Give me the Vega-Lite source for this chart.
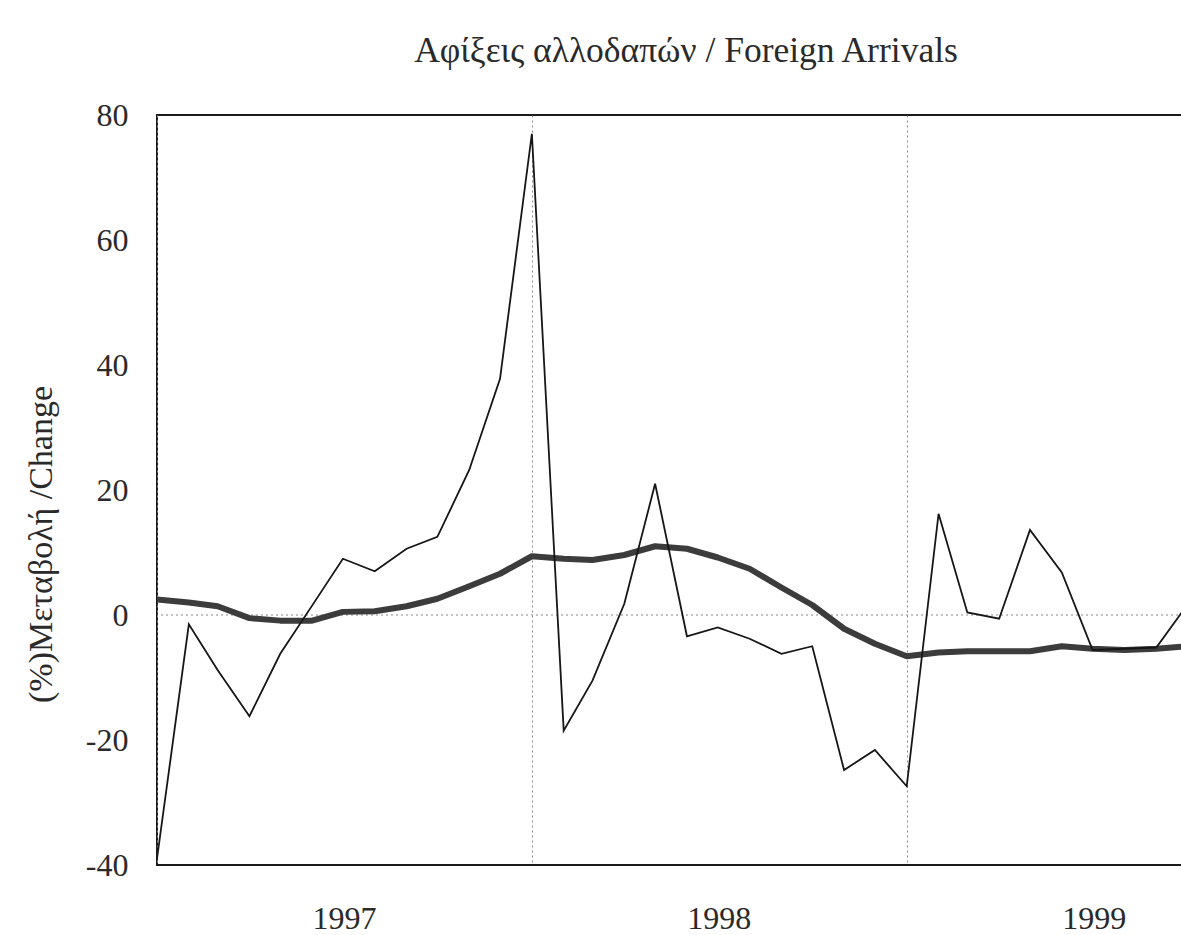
{
  "$schema": "https://vega.github.io/schema/vega-lite/v6.json",
  "width": 1026,
  "height": 750,
  "autosize": "none",
  "padding": {"left": 157, "top": 115, "right": 0, "bottom": 70},
  "background": "white",
  "config": {
    "view": {"stroke": "#1a1a1a", "strokeWidth": 2},
    "font": "Liberation Serif"
  },
  "title": {
    "text": "Αφίξεις αλλοδαπών / Foreign Arrivals",
    "font": "Liberation Serif",
    "fontSize": 35.5,
    "fontWeight": "normal",
    "color": "#2a2a2a",
    "anchor": "middle",
    "frame": "group",
    "baseline": "alphabetic",
    "offset": 2,
    "dx": 16
  },
  "data": {
    "values": [
      {"month": "1997-01-01", "change": -39.0, "trend": 2.5},
      {"month": "1997-02-01", "change": -1.5, "trend": 2.0},
      {"month": "1997-03-01", "change": -8.8, "trend": 1.4},
      {"month": "1997-04-01", "change": -16.2, "trend": -0.5},
      {"month": "1997-05-01", "change": -6.2, "trend": -0.9},
      {"month": "1997-06-01", "change": 1.5, "trend": -0.9},
      {"month": "1997-07-01", "change": 9.0, "trend": 0.5},
      {"month": "1997-08-01", "change": 7.0, "trend": 0.6},
      {"month": "1997-09-01", "change": 10.6, "trend": 1.4},
      {"month": "1997-10-01", "change": 12.5, "trend": 2.6},
      {"month": "1997-11-01", "change": 23.2, "trend": 4.6},
      {"month": "1997-12-01", "change": 37.8, "trend": 6.6},
      {"month": "1998-01-01", "change": 77.0, "trend": 9.4},
      {"month": "1998-02-01", "change": -18.5, "trend": 9.0},
      {"month": "1998-03-01", "change": -10.5, "trend": 8.8},
      {"month": "1998-04-01", "change": 1.8, "trend": 9.6},
      {"month": "1998-05-01", "change": 21.0, "trend": 11.0},
      {"month": "1998-06-01", "change": -3.4, "trend": 10.6},
      {"month": "1998-07-01", "change": -2.0, "trend": 9.2},
      {"month": "1998-08-01", "change": -3.8, "trend": 7.4},
      {"month": "1998-09-01", "change": -6.2, "trend": 4.4},
      {"month": "1998-10-01", "change": -5.0, "trend": 1.6},
      {"month": "1998-11-01", "change": -24.8, "trend": -2.2},
      {"month": "1998-12-01", "change": -21.6, "trend": -4.6},
      {"month": "1999-01-01", "change": -27.4, "trend": -6.6},
      {"month": "1999-02-01", "change": 16.2, "trend": -6.0},
      {"month": "1999-03-01", "change": 0.4, "trend": -5.8},
      {"month": "1999-04-01", "change": -0.6, "trend": -5.8},
      {"month": "1999-05-01", "change": 13.6, "trend": -5.8},
      {"month": "1999-06-01", "change": 6.8, "trend": -5.0},
      {"month": "1999-07-01", "change": -5.6, "trend": -5.4},
      {"month": "1999-08-01", "change": -5.4, "trend": -5.6},
      {"month": "1999-09-01", "change": -5.2, "trend": -5.4},
      {"month": "1999-10-01", "change": 1.6, "trend": -5.0}
    ]
  },
  "layer": [
    {
      "data": {"values": [{"reference": 0}]},
      "mark": {"type": "rule", "color": "#8a8a8a", "strokeWidth": 1, "strokeDash": [2, 3]},
      "encoding": {
        "y": {
          "field": "reference", "type": "quantitative",
          "scale": {"domain": [-40, 80], "nice": false, "zero": false},
          "axis": {
            "title": "(%)Μεταβολή /Change",
            "values": [-40, -20, 0, 20, 40, 60, 80],
            "labelExpr": "'' + datum.value",
            "grid": false, "domain": false, "ticks": false, "tickSize": 0,
            "labelPadding": 29, "labelFontSize": 32, "labelColor": "#2a2a2a", "labelFont": "Liberation Serif",
            "titleFont": "Liberation Serif", "titleFontSize": 34, "titleFontWeight": "normal", "titleColor": "#2a2a2a",
            "titleAngle": 270, "titleX": -106, "titleY": 429, "titleAlign": "center", "titleBaseline": "alphabetic"
          }
        }
      }
    },
    {
      "mark": {"type": "line", "color": "#3c3c3c", "strokeWidth": 6, "clip": true, "strokeJoin": "round"},
      "encoding": {
        "x": {
          "field": "month", "type": "temporal",
          "scale": {"type": "utc", "domain": [{"year": 1997, "month": 1, "date": 1, "utc": true}, {"year": 1999, "month": 9, "date": 27, "utc": true}]},
          "axis": {
            "title": null,
            "values": [{"year": 1997, "month": 1, "date": 1, "utc": true}, {"year": 1998, "month": 1, "date": 1, "utc": true}, {"year": 1999, "month": 1, "date": 1, "utc": true}],
            "format": "%Y",
            "grid": true, "gridColor": "#8a8a8a", "gridDash": [2, 3], "gridWidth": 1,
            "domain": false, "ticks": false, "tickSize": 0,
            "labelPadding": 38, "labelOffset": 187, "labelFlush": false, "labelOverlap": false, "labelBound": false,
            "labelFontSize": 32, "labelBaseline": "top", "labelAlign": "center", "labelColor": "#2a2a2a", "labelFont": "Liberation Serif"
          }
        },
        "y": {
          "field": "trend", "type": "quantitative",
          "scale": {"domain": [-40, 80], "nice": false, "zero": false},
          "axis": {
            "title": "(%)Μεταβολή /Change",
            "values": [-40, -20, 0, 20, 40, 60, 80],
            "labelExpr": "'' + datum.value",
            "grid": false, "domain": false, "ticks": false, "tickSize": 0,
            "labelPadding": 29, "labelFontSize": 32, "labelColor": "#2a2a2a", "labelFont": "Liberation Serif",
            "titleFont": "Liberation Serif", "titleFontSize": 34, "titleFontWeight": "normal", "titleColor": "#2a2a2a",
            "titleAngle": 270, "titleX": -106, "titleY": 429, "titleAlign": "center", "titleBaseline": "alphabetic"
          }
        }
      }
    },
    {
      "mark": {"type": "line", "color": "#161616", "strokeWidth": 1.8, "clip": true},
      "encoding": {
        "x": {
          "field": "month", "type": "temporal",
          "scale": {"type": "utc", "domain": [{"year": 1997, "month": 1, "date": 1, "utc": true}, {"year": 1999, "month": 9, "date": 27, "utc": true}]},
          "axis": {
            "title": null,
            "values": [{"year": 1997, "month": 1, "date": 1, "utc": true}, {"year": 1998, "month": 1, "date": 1, "utc": true}, {"year": 1999, "month": 1, "date": 1, "utc": true}],
            "format": "%Y",
            "grid": true, "gridColor": "#8a8a8a", "gridDash": [2, 3], "gridWidth": 1,
            "domain": false, "ticks": false, "tickSize": 0,
            "labelPadding": 38, "labelOffset": 187, "labelFlush": false, "labelOverlap": false, "labelBound": false,
            "labelFontSize": 32, "labelBaseline": "top", "labelAlign": "center", "labelColor": "#2a2a2a", "labelFont": "Liberation Serif"
          }
        },
        "y": {
          "field": "change", "type": "quantitative",
          "scale": {"domain": [-40, 80], "nice": false, "zero": false},
          "axis": {
            "title": "(%)Μεταβολή /Change",
            "values": [-40, -20, 0, 20, 40, 60, 80],
            "labelExpr": "'' + datum.value",
            "grid": false, "domain": false, "ticks": false, "tickSize": 0,
            "labelPadding": 29, "labelFontSize": 32, "labelColor": "#2a2a2a", "labelFont": "Liberation Serif",
            "titleFont": "Liberation Serif", "titleFontSize": 34, "titleFontWeight": "normal", "titleColor": "#2a2a2a",
            "titleAngle": 270, "titleX": -106, "titleY": 429, "titleAlign": "center", "titleBaseline": "alphabetic"
          }
        }
      }
    }
  ]
}
